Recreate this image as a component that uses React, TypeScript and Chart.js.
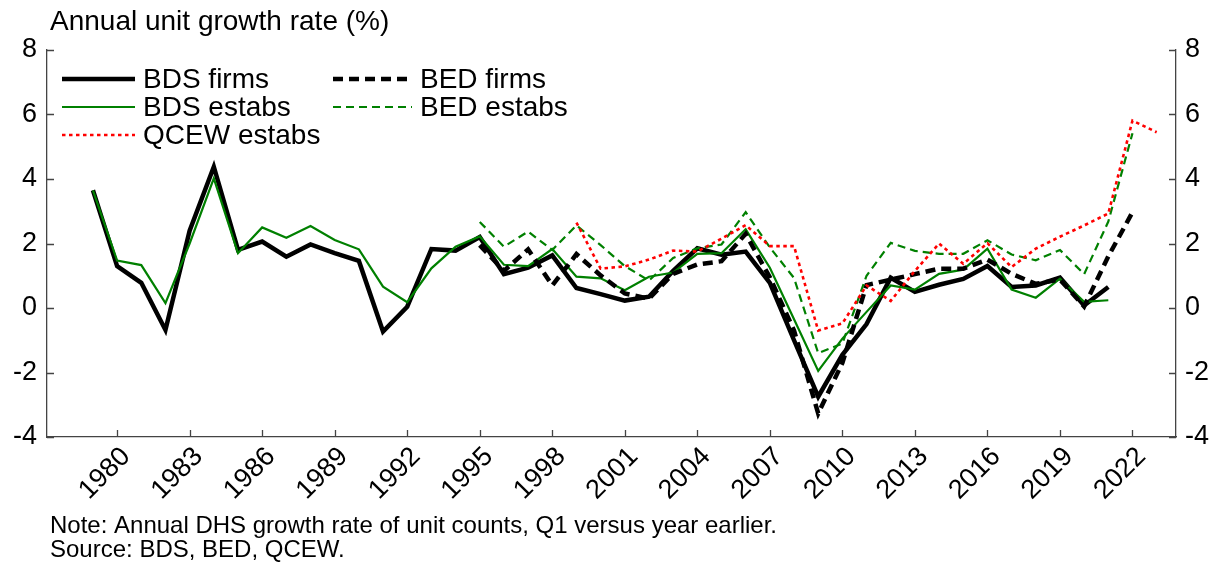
import React, { useEffect, useRef } from "react";
import { Chart, registerables } from "chart.js";

Chart.register(...registerables);

const years = [
  1979, 1980, 1981, 1982, 1983, 1984, 1985, 1986, 1987, 1988,
  1989, 1990, 1991, 1992, 1993, 1994, 1995, 1996, 1997, 1998,
  1999, 2000, 2001, 2002, 2003, 2004, 2005, 2006, 2007, 2008,
  2009, 2010, 2011, 2012, 2013, 2014, 2015, 2016, 2017, 2018,
  2019, 2020, 2021, 2022, 2023,
];

const bdsFirms = [
  3.65, 1.3, 0.78, -0.68, 2.4, 4.38, 1.8, 2.06, 1.59, 1.97,
  1.7, 1.46, -0.73, 0.04, 1.83, 1.78, 2.2, 1.05, 1.25, 1.63,
  0.62, 0.43, 0.23, 0.35, 1.15, 1.85, 1.65, 1.75, 0.78, -1.0,
  -2.75, -1.45, -0.5, 0.94, 0.5, 0.72, 0.9, 1.3, 0.65, 0.7,
  0.94, 0.08, 0.65, null, null,
];

const bdsEstabs = [
  3.65, 1.47, 1.33, 0.15, 2.0, 4.02, 1.7, 2.5, 2.18, 2.54,
  2.11, 1.82, 0.66, 0.18, 1.23, 1.9, 2.22, 1.34, 1.3, 1.83,
  0.97, 0.92, 0.55, 0.97, 1.1, 1.68, 1.7, 2.44, 1.25, -0.35,
  -1.95, -0.95, -0.12, 0.7, 0.57, 1.06, 1.19, 1.84, 0.57, 0.32,
  0.91, 0.19, 0.24, null, null,
];

const bedFirms = [
  null, null, null, null, null, null, null, null, null, null,
  null, null, null, null, null, null, 1.95, 1.15, 1.82, 0.7,
  1.67, 1.01, 0.45, 0.29, 1.06, 1.35, 1.45, 2.3, 0.95, -0.7,
  -3.27, -1.7, 0.71, 0.88, 1.05, 1.22, 1.22, 1.5, 1.06, 0.75,
  0.88, 0.05, 1.6, 2.97, null,
];

const bedEstabs = [
  null, null, null, null, null, null, null, null, null, null,
  null, null, null, null, null, null, 2.67, 1.9, 2.37, 1.8,
  2.56, 1.95, 1.3, 0.85, 1.55, 1.85, 1.97, 2.97, 1.88, 0.93,
  -1.4, -1.1, 1.0, 2.02, 1.77, 1.68, 1.68, 2.1, 1.66, 1.48,
  1.8, 1.05, 2.68, 5.42, null,
];

const qcewEstabs = [
  null, null, null, null, null, null, null, null, null, null,
  null, null, null, null, null, null, null, null, null, null,
  2.65, 1.22, 1.29, 1.5, 1.78, 1.75, 2.15, 2.57, 1.92, 1.92,
  -0.7, -0.48, 0.7, 0.22, 1.15, 2.0, 1.37, 2.01, 1.27, 1.84,
  2.21, 2.56, 2.93, 5.81, 5.45,
];

const seriesNames = ["BDS firms", "BDS estabs", "BED firms", "BED estabs", "QCEW estabs"];
const xTickYears = [1980, 1983, 1986, 1989, 1992, 1995, 1998, 2001, 2004, 2007, 2010, 2013, 2016, 2019, 2022];
const yTickValues = [-4, -2, 0, 2, 4, 6, 8];
const axisTitle = "Annual unit growth rate (%)";
const noteLines = [
  "Note: Annual DHS growth rate of unit counts, Q1 versus year earlier.",
  "Source: BDS, BED, QCEW.",
];

const FONT = '"Liberation Sans", Arial, Helvetica, sans-serif';
const GREEN = "#008000";
const RED = "#ff0000";
const AXIS = "#444444";

const toPoints = (vals: (number | null)[]) =>
  years.map((yr, i) => ({ x: yr, y: vals[i] }));

const decorPlugin = {
  id: "decor",
  afterDraw(chart: any) {
    const ctx = chart.ctx as CanvasRenderingContext2D;
    const { left, right, bottom } = chart.chartArea;
    const xs = chart.scales.x;
    const yl = chart.scales.y;
    const yr = chart.scales.y2;
    ctx.save();
    // inward tick marks
    ctx.strokeStyle = AXIS;
    ctx.lineWidth = 1.3;
    ctx.setLineDash([]);
    ctx.beginPath();
    xs.ticks.forEach((t: any) => {
      const px = Math.round(xs.getPixelForValue(t.value)) + 0.5;
      ctx.moveTo(px, bottom);
      ctx.lineTo(px, bottom - 7);
    });
    yl.ticks.forEach((t: any) => {
      const py = Math.round(yl.getPixelForValue(t.value)) + 0.5;
      ctx.moveTo(left, py);
      ctx.lineTo(left + 7, py);
    });
    yr.ticks.forEach((t: any) => {
      const py = Math.round(yr.getPixelForValue(t.value)) + 0.5;
      ctx.moveTo(right, py);
      ctx.lineTo(right - 7, py);
    });
    ctx.stroke();

    // axis title
    ctx.fillStyle = "#000";
    ctx.textAlign = "left";
    ctx.textBaseline = "middle";
    ctx.font = `28px ${FONT}`;
    ctx.fillText(axisTitle, 50, 22);

    // legend
    const slots = [
      { ds: 0, lx: 62, rx: 135, tx: 143, y: 79 },
      { ds: 1, lx: 62, rx: 135, tx: 143, y: 107 },
      { ds: 4, lx: 62, rx: 135, tx: 143, y: 135 },
      { ds: 2, lx: 333, rx: 412, tx: 420, y: 79 },
      { ds: 3, lx: 333, rx: 412, tx: 420, y: 107 },
    ];
    slots.forEach((s) => {
      const d = chart.data.datasets[s.ds];
      ctx.strokeStyle = d.borderColor;
      ctx.lineWidth = d.borderWidth;
      ctx.setLineDash(d.borderDash || []);
      ctx.lineCap = "butt";
      ctx.beginPath();
      ctx.moveTo(s.lx, s.y);
      ctx.lineTo(s.rx, s.y);
      ctx.stroke();
      ctx.setLineDash([]);
      ctx.fillStyle = "#000";
      ctx.font = `28px ${FONT}`;
      ctx.fillText(d.label, s.tx, s.y + 1);
    });

    // notes
    ctx.font = `24px ${FONT}`;
    noteLines.forEach((line, i) => ctx.fillText(line, 50, 526 + i * 24));
    ctx.restore();
  },
};

export default function App() {
  const ref = useRef<HTMLCanvasElement | null>(null);
  useEffect(() => {
    if (!ref.current) return;
    const makeY = (position: "left" | "right", width: number, padding: number) => ({
      type: "linear" as const,
      position,
      min: -4,
      max: 8,
      afterBuildTicks: (scale: any) => {
        scale.ticks = yTickValues.map((v) => ({ value: v }));
      },
      afterFit: (scale: any) => {
        scale.width = width;
      },
      grid: { display: false, drawTicks: false },
      border: { display: true, color: AXIS, width: 1.3 },
      ticks: {
        color: "#000",
        font: { size: 27, family: FONT },
        padding,
        callback: (v: any) => String(v),
      },
    });
    const chart = new Chart(ref.current, {
      type: "line",
      data: {
        datasets: [
          {
            label: seriesNames[0],
            data: toPoints(bdsFirms),
            borderColor: "#000000",
            borderWidth: 4.5,
            borderDash: [],
            order: 5,
          },
          {
            label: seriesNames[1],
            data: toPoints(bdsEstabs),
            borderColor: GREEN,
            borderWidth: 2.2,
            borderDash: [],
            order: 4,
          },
          {
            label: seriesNames[2],
            data: toPoints(bedFirms),
            borderColor: "#000000",
            borderWidth: 4.5,
            borderDash: [10, 6],
            order: 3,
          },
          {
            label: seriesNames[3],
            data: toPoints(bedEstabs),
            borderColor: GREEN,
            borderWidth: 2.2,
            borderDash: [8, 5],
            order: 2,
          },
          {
            label: seriesNames[4],
            data: toPoints(qcewEstabs),
            borderColor: RED,
            borderWidth: 2.6,
            borderDash: [3.5, 3.5],
            order: 1,
          },
        ] as any,
      },
      options: {
        responsive: false,
        animation: false,
        devicePixelRatio: 1,
        layout: { padding: { top: 50, bottom: 55, left: 0, right: 0 } },
        elements: {
          point: { radius: 0, hoverRadius: 0 },
          line: { tension: 0, borderJoinStyle: "miter", borderCapStyle: "butt", fill: false },
        },
        plugins: {
          legend: { display: false },
          tooltip: { enabled: false },
          title: { display: false },
        },
        scales: {
          x: {
            type: "linear",
            position: "bottom",
            min: 1977.1,
            max: 2023.8,
            afterBuildTicks: (scale: any) => {
              scale.ticks = xTickYears.map((v) => ({ value: v }));
            },
            afterFit: (scale: any) => {
              scale.height = 70;
            },
            grid: { display: false, drawTicks: false },
            border: { display: true, color: AXIS, width: 1.3 },
            ticks: {
              color: "#000",
              font: { size: 27, family: FONT },
              maxRotation: 45,
              minRotation: 45,
              autoSkip: false,
              padding: 4,
              labelOffset: 9,
              callback: (v: any) => String(v),
            },
          },
          y: makeY("left", 47, 10),
          y2: makeY("right", 38, 9),
        },
      } as any,
      plugins: [decorPlugin],
    });
    return () => chart.destroy();
  }, []);
  return (
    <div style={{ position: "fixed", left: 0, top: 0, width: 1214, height: 562, background: "#fff" }}>
      <canvas ref={ref} width={1214} height={562} style={{ display: "block" }} />
    </div>
  );
}
